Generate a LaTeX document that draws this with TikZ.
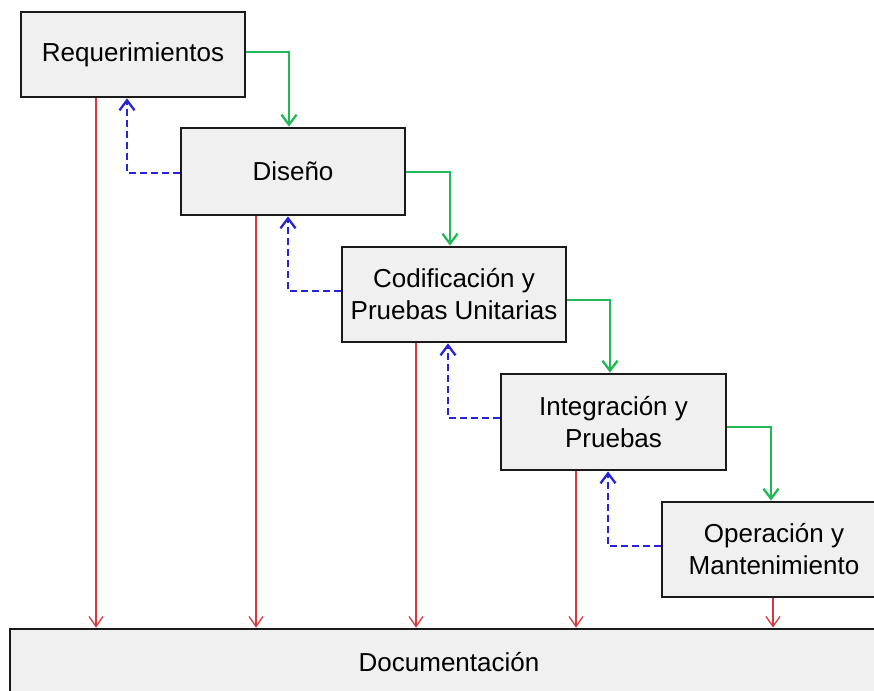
\documentclass[tikz,border=0pt]{standalone}
\usepackage{fontspec}
\setmainfont{Liberation Sans}
\usetikzlibrary{arrows.meta}
\definecolor{boxfill}{HTML}{F0F0F0}
\definecolor{boxline}{HTML}{1A1A1A}
\definecolor{flowgreen}{HTML}{22B858}
\definecolor{backblue}{HTML}{2424D8}
\definecolor{docred}{HTML}{D8383C}
\tikzset{
  phase/.style={draw=boxline, line width=2.8pt, fill=boxfill, align=center,
    inner sep=0pt, font=\fontsize{26}{32}\selectfont},
  forward/.style={draw=flowgreen, line width=2.3pt,
    -{Straight Barb[length=10pt,width=15pt]}},
  feedback/.style={draw=backblue, line width=2.3pt, dash pattern=on 7pt off 4pt,
    -{Straight Barb[length=10pt,width=15pt]}},
  docflow/.style={draw=docred, line width=1.3pt,
    -{Straight Barb[length=10pt,width=14pt]}},
}
\begin{document}
\begin{tikzpicture}[x=1pt,y=-1pt]
\useasboundingbox (0,0) rectangle (874,690);
\clip (0,0) rectangle (874,690);

% stages of the cascade
\node[phase, minimum width=224pt, minimum height=85pt] (req) at (133,54.5) {Requerimientos};
\node[phase, minimum width=224pt, minimum height=87pt] (dis) at (293,171.5) {Diseño};
\node[phase, minimum width=224pt, minimum height=95pt] (cod) at (454,294.5) {Codificación y\\Pruebas Unitarias};
\node[phase, minimum width=225pt, minimum height=96pt] (int) at (613.5,422) {Integración y\\Pruebas};
\node[phase, minimum width=224pt, minimum height=95pt] (ope) at (774,549.5) {Operación y\\Mantenimiento};
\node[phase, minimum width=878pt, minimum height=66pt] (doc) at (449,662) {Documentación};

% forward flow
\draw[forward] ([yshift=2.5pt]req.east) -| ([xshift=-4pt]dis.north);
\draw[forward] ([yshift=-0.5pt]dis.east) -| ([xshift=-4pt]cod.north);
\draw[forward] ([yshift=-5.5pt]cod.east) -| ([xshift=-3.5pt]int.north);
\draw[forward] ([yshift=-5pt]int.east) -| ([xshift=-3pt]ope.north);

% feedback to the previous stage
\draw[feedback] ([yshift=-1.5pt]dis.west) -| ([xshift=-6pt]req.south);
\draw[feedback] ([yshift=3.5pt]cod.west) -| ([xshift=-5pt]dis.south);
\draw[feedback] ([yshift=4pt]int.west) -| ([xshift=-6pt]cod.south);
\draw[feedback] ([yshift=3.5pt]ope.west) -| ([xshift=-5.5pt]int.south);

% every stage feeds the documentation
\draw[docflow] ([xshift=-37pt]req.south) -- ([xshift=-37pt]req.south |- doc.north);
\draw[docflow] ([xshift=-37pt]dis.south) -- ([xshift=-37pt]dis.south |- doc.north);
\draw[docflow] ([xshift=-38pt]cod.south) -- ([xshift=-38pt]cod.south |- doc.north);
\draw[docflow] ([xshift=-37.5pt]int.south) -- ([xshift=-37.5pt]int.south |- doc.north);
\draw[docflow] ([xshift=-1pt]ope.south) -- ([xshift=-1pt]ope.south |- doc.north);
\end{tikzpicture}
\end{document}
